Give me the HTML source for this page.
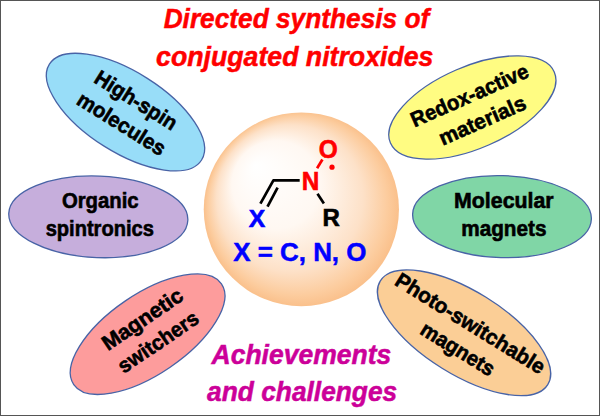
<!DOCTYPE html>
<html><head><meta charset="utf-8">
<style>
html,body{margin:0;padding:0;background:#fff;}
body{width:600px;height:416px;overflow:hidden;}
svg{display:block;}
text{font-family:"Liberation Sans",sans-serif;font-weight:bold;}
.t{fill:#000;font-size:21.2px;stroke:#000;stroke-width:0.6px;}
.e{stroke:#4863A6;stroke-width:1.3;}
.ti{font-style:italic;font-size:27.5px;stroke-width:0.5px;}
</style></head>
<body>
<svg width="600" height="416" viewBox="0 0 600 416">
<defs>
<radialGradient id="g" cx="301.35" cy="208.9" r="97.6" fx="255" fy="165" gradientUnits="userSpaceOnUse">
<stop offset="0" stop-color="#FFFFFF"/>
<stop offset="0.45" stop-color="#FFF8F2"/>
<stop offset="0.75" stop-color="#FDE1C8"/>
<stop offset="0.92" stop-color="#FCCC9E"/>
<stop offset="1" stop-color="#FAC08B"/>
</radialGradient>
</defs>
<rect x="0" y="0" width="600" height="416" fill="#fff"/>
<rect x="0.5" y="0.5" width="599" height="415" fill="none" stroke="#555" stroke-width="1"/>

<!-- title -->
<text class="ti" x="296.45" y="28.3" text-anchor="middle" fill="#FF0000" stroke="#FF0000" textLength="265.6" lengthAdjust="spacingAndGlyphs">Directed synthesis of</text>
<text class="ti" x="294.75" y="65.5" text-anchor="middle" fill="#FF0000" stroke="#FF0000" textLength="277.3" lengthAdjust="spacingAndGlyphs">conjugated nitroxides</text>

<!-- ellipses -->
<ellipse class="e" transform="translate(125.5 112.1) rotate(32.2)" rx="89.9" ry="40.2" fill="#98DDF8"/>
<text class="t" transform="translate(132.25 106.35) rotate(32)" text-anchor="middle" textLength="92.9" lengthAdjust="spacingAndGlyphs">High-spin</text>
<text class="t" transform="translate(117.7 130) rotate(32)" text-anchor="middle" textLength="100.1" lengthAdjust="spacingAndGlyphs">molecules</text>

<ellipse class="e" transform="translate(98.3 216.8) rotate(2.2)" rx="89.6" ry="40.8" fill="#C6AEDC"/>
<text class="t" x="100.3" y="208" text-anchor="middle" textLength="76.7" lengthAdjust="spacingAndGlyphs">Organic</text>
<text class="t" x="99.75" y="236.2" text-anchor="middle" textLength="108.2" lengthAdjust="spacingAndGlyphs">spintronics</text>

<ellipse class="e" transform="translate(147.6 334.15) rotate(-34.3)" rx="89.4" ry="40" fill="#FD9C9C"/>
<text class="t" transform="translate(146.4 325.2) rotate(-34.2)" text-anchor="middle" textLength="93" lengthAdjust="spacingAndGlyphs">Magnetic</text>
<text class="t" transform="translate(162.2 347.85) rotate(-34.2)" text-anchor="middle" textLength="92.7" lengthAdjust="spacingAndGlyphs">switchers</text>

<ellipse class="e" transform="translate(472.35 107.5) rotate(-23.5)" rx="89.3" ry="40.9" fill="#FFFC82"/>
<text class="t" transform="translate(472.4 101.95) rotate(-23.8)" text-anchor="middle" textLength="126.5" lengthAdjust="spacingAndGlyphs">Redox-active</text>
<text class="t" transform="translate(485.2 127.1) rotate(-23.8)" text-anchor="middle" textLength="93" lengthAdjust="spacingAndGlyphs">materials</text>

<ellipse class="e" transform="translate(502 216.6) rotate(1.5)" rx="89.4" ry="41" fill="#80D6A6"/>
<text class="t" x="503.85" y="208.1" text-anchor="middle" textLength="99.5" lengthAdjust="spacingAndGlyphs">Molecular</text>
<text class="t" x="503.85" y="236.2" text-anchor="middle" textLength="85.2" lengthAdjust="spacingAndGlyphs">magnets</text>

<ellipse class="e" transform="translate(464.05 332.75) rotate(31.8)" rx="98.5" ry="41.7" fill="#FBCE96"/>
<text class="t" transform="translate(466.45 329.6) rotate(31.8)" text-anchor="middle" textLength="171.9" lengthAdjust="spacingAndGlyphs">Photo-switchable</text>
<text class="t" transform="translate(453.95 355.1) rotate(31.8)" text-anchor="middle" textLength="83.1" lengthAdjust="spacingAndGlyphs">magnets</text>

<!-- central circle -->
<ellipse cx="301.35" cy="209.35" rx="97.6" ry="96.85" fill="url(#g)"/>

<!-- molecule -->
<polyline points="299.7,180.4 273.4,180.3 260.4,203.6" fill="none" stroke="#000" stroke-width="2.7" stroke-linejoin="round"/>
<line x1="277.6" y1="187.6" x2="267.5" y2="206.6" stroke="#000" stroke-width="2.7"/>
<line x1="317.5" y1="193.8" x2="323.9" y2="203.5" stroke="#000" stroke-width="2.7"/>
<line x1="322.4" y1="159.5" x2="317.1" y2="168.2" stroke="#FF0000" stroke-width="2.7"/>
<circle cx="332" cy="167.2" r="2.6" fill="#FF0000"/>
<text transform="translate(328.15 157.8) scale(0.94 1)" text-anchor="middle" fill="#FF0000" stroke="#FF0000" stroke-width="0.6" font-size="26">O</text>
<text transform="translate(310.5 189.5) scale(0.95 1)" text-anchor="middle" fill="#FF0000" stroke="#FF0000" stroke-width="0.6" font-size="25.6">N</text>
<text transform="translate(256.9 226.5) scale(1.03 1)" text-anchor="middle" fill="#0000FF" stroke="#0000FF" stroke-width="0.6" font-size="24">X</text>
<text transform="translate(331.2 225.8) scale(1.0 1)" text-anchor="middle" fill="#000" stroke="#000" stroke-width="0.6" font-size="24">R</text>
<text x="299.8" y="261.4" text-anchor="middle" fill="#0000FF" stroke="#0000FF" stroke-width="0.5" font-size="26.4" textLength="133.3" lengthAdjust="spacingAndGlyphs">X = C, N, O</text>

<!-- bottom -->
<text class="ti" x="301.4" y="364" text-anchor="middle" fill="#CC0099" stroke="#CC0099" textLength="179.8" lengthAdjust="spacingAndGlyphs">Achievements</text>
<text class="ti" x="302.15" y="401" text-anchor="middle" fill="#CC0099" stroke="#CC0099" textLength="190.1" lengthAdjust="spacingAndGlyphs">and challenges</text>
</svg>
</body></html>
